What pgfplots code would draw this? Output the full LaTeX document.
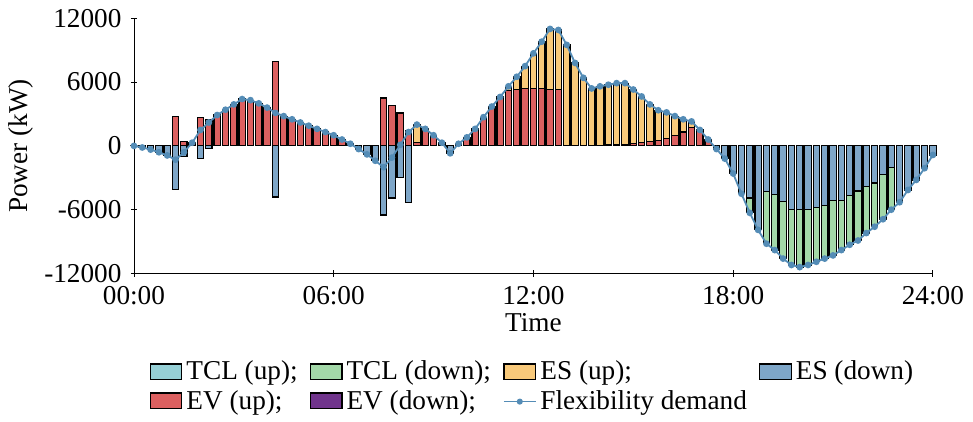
\documentclass[border=0pt]{standalone}
\usepackage{pgfplots}
\usepackage{pgfplotstable}
\pgfplotsset{compat=1.18}
\usepackage{fontspec}
\setmainfont{Liberation Serif}
\definecolor{tclu}{RGB}{150,208,214}
\definecolor{tcld}{RGB}{163,216,168}
\definecolor{esu}{RGB}{248,201,122}
\definecolor{esd}{RGB}{126,166,200}
\definecolor{evu}{RGB}{220,96,96}
\definecolor{evd}{RGB}{112,52,140}
\definecolor{flex}{RGB}{84,140,182}
\pgfplotstableread{
t F EV ESu ESd TCLd
0 0 0 0 0 0
0.25 -150 0 0 -150 0
0.5 -350 0 0 -350 0
0.75 -600 0 0 -600 0
1.0 -900 0 0 -900 0
1.25 -1300 2800 0 -4100 0
1.5 -600 400 0 -1000 0
1.75 300 300 0 0 0
2.0 1500 2700 0 -1200 0
2.25 2200 2500 0 -250 0
2.5 2900 2900 0 0 0
2.75 3400 3400 0 0 0
3.0 3900 3900 0 0 0
3.25 4400 4400 0 0 0
3.5 4300 4300 0 0 0
3.75 4000 4000 0 0 0
4.0 3600 3600 0 0 0
4.25 3100 7900 0 -4800 0
4.5 2800 2800 0 0 0
4.75 2500 2500 0 0 0
5.0 2200 2200 0 0 0
5.25 1900 1900 0 0 0
5.5 1600 1600 0 0 0
5.75 1300 1300 0 0 0
6.0 1000 1000 0 0 0
6.25 600 600 0 0 0
6.5 200 200 0 0 0
6.75 -300 0 0 -300 0
7.0 -800 0 0 -800 0
7.25 -1400 0 0 -1400 0
7.5 -2000 4500 0 -6500 0
7.75 -1100 3800 0 -4900 0
8.0 100 3100 0 -3000 0
8.25 1300 1400 0 -5300 0
8.5 2000 300 1700 0 0
8.75 1600 1600 0 0 0
9.0 1000 1000 0 0 0
9.25 300 300 0 0 0
9.5 -700 0 0 -700 0
9.75 200 200 0 0 0
10.0 800 800 0 0 0
10.25 1600 1600 0 0 0
10.5 2700 2700 0 0 0
10.75 3700 3700 0 0 0
11.0 4600 4600 0 0 0
11.25 5600 5200 400 0 0
11.5 6500 5300 1200 0 0
11.75 7500 5400 2100 0 0
12.0 8700 5400 3300 0 0
12.25 9800 5400 4400 0 0
12.5 11000 5300 5700 0 0
12.75 10900 5300 5600 0 0
13.0 9500 0 9500 0 0
13.25 7800 0 7800 0 0
13.5 6400 0 6400 0 0
13.75 5400 0 5400 0 0
14.0 5600 50 5550 0 0
14.25 5750 80 5670 0 0
14.5 5900 100 5800 0 0
14.75 5900 150 5750 0 0
15.0 5300 200 5100 0 0
15.25 4650 300 4350 0 0
15.5 3900 400 3500 0 0
15.75 3350 500 2850 0 0
16.0 3150 700 2450 0 0
16.25 2800 1000 1800 0 0
16.5 2500 1300 1200 0 0
16.75 2300 1700 600 0 0
17.0 1500 1500 0 0 0
17.25 600 600 0 0 0
17.5 -300 0 0 -300 0
17.75 -1200 0 0 -1200 0
18.0 -2600 0 0 -2600 0
18.25 -4500 0 0 -4500 0
18.5 -6300 0 0 -4900 -1400
18.75 -7900 0 0 -7900 0
19.0 -9200 0 0 -4300 -4900
19.25 -9800 0 0 -4600 -5200
19.5 -10600 0 0 -5250 -5350
19.75 -11200 0 0 -6000 -5200
20.0 -11400 0 0 -6000 -5400
20.25 -11200 0 0 -6000 -5200
20.5 -10900 0 0 -5800 -5100
20.75 -10600 0 0 -5600 -5000
21.0 -10300 0 0 -5150 -5150
21.25 -9800 0 0 -5100 -4700
21.5 -9300 0 0 -4700 -4600
21.75 -8900 0 0 -4250 -4650
22.0 -8200 0 0 -3800 -4400
22.25 -7600 0 0 -3500 -4100
22.5 -6900 0 0 -2700 -4200
22.75 -6000 0 0 -2000 -4000
23.0 -5300 0 0 -5300 0
23.25 -4150 0 0 -4150 0
23.5 -3200 0 0 -3200 0
23.75 -2100 0 0 -2100 0
24.0 -850 0 0 -850 0
}\data
\begin{document}
\fontsize{13.5}{15}\selectfont
\begin{tikzpicture}
\begin{axis}[
  scale only axis, width=396pt, height=126.5pt,
  xmin=0, xmax=24, ymin=-12000, ymax=12000,
  axis lines=left, axis line style={-, thin},
  xtick={0,6,12,18,24}, xticklabels={00:00,06:00,12:00,18:00,24:00},
  ytick={-12000,-6000,0,6000,12000},
  yticklabel style={/pgf/number format/fixed,/pgf/number format/1000 sep={}},
  scaled y ticks=false,
  /pgf/number format/assume math mode=true,
  tick style={black, thin}, major tick length=3pt,
  tick label style={font=\fontsize{13.5}{15}\selectfont},
  label style={font=\fontsize{13.5}{15}\selectfont},
  xlabel={Time}, ylabel={Power (kW)},
  xlabel style={yshift=5pt}, ylabel style={yshift=-4pt},
  legend style={at={(0.5,-0.31)}, anchor=north, draw=none, font=\fontsize{13.5}{15}\selectfont,
    row sep=-1pt,
    /tikz/every even column/.append style={column sep=4pt}},
  legend columns=4, legend cell align=left,
  legend image code/.code={\draw[#1, draw=black] (0cm,-0.12cm) rectangle (0.55cm,0.15cm);},
  clip=false,
]
\addlegendimage{fill=tclu}\addlegendentry{TCL (up);}
\addlegendimage{fill=tcld}\addlegendentry{TCL (down);}
\addlegendimage{fill=esu}\addlegendentry{ES (up);}
\addlegendimage{fill=esd}\addlegendentry{ES (down)}
\addlegendimage{fill=evu}\addlegendentry{EV (up);}
\addlegendimage{fill=evd}\addlegendentry{EV (down);}
\addlegendimage{legend image code/.code={\draw[flex, thick] (0cm,0cm)--(0.55cm,0cm); \fill[flex] (0.275cm,0cm) circle (1.2pt);}}\addlegendentry{Flexibility demand}
\pgfplotsset{every axis plot/.append style={ybar, bar width=3.2pt, bar shift=0pt, draw=black, line width=0.6pt, forget plot}}
\addplot[fill=esu] table[x=t, y expr=\thisrow{EV}+\thisrow{ESu}] {\data};
\addplot[fill=evu] table[x=t, y=EV] {\data};
\addplot[fill=tcld] table[x=t, y expr=\thisrow{ESd}+\thisrow{TCLd}] {\data};
\addplot[fill=esd] table[x=t, y=ESd] {\data};
\addplot[sharp plot, draw=flex, fill=none, line width=0.9pt, mark=*, mark size=1.2pt, mark options={fill=flex, draw=flex}] table[x=t, y=F] {\data};
\end{axis}
\end{tikzpicture}
\end{document}
